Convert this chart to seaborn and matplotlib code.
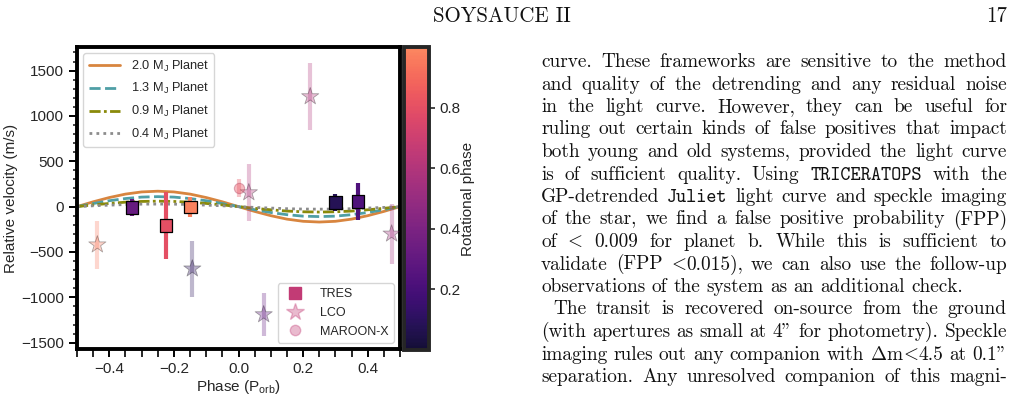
#!/usr/bin/env python3
"""Phase-folded radial velocities with planet models, next to the page text."""

import re

import matplotlib
matplotlib.use("Agg")
import matplotlib.pyplot as plt
import numpy as np
import pandas as pd
import seaborn as sns
from matplotlib.cm import ScalarMappable
from matplotlib.colors import ListedColormap, Normalize
from matplotlib.lines import Line2D
from matplotlib.ticker import MultipleLocator
from matplotlib.transforms import IdentityTransform

W, H = 1028, 418

# Radial velocities (orbital phase, m/s, error, rotational phase)
TRES_PHASE = [-0.33, -0.225, -0.149, 0.300, 0.370]
TRES_RV = [-10, -210, -5, 45, 55]
TRES_ERR = [90, 370, 110, 90, 205]
TRES_ROT = [0.32, 0.80, 0.98, 0.08, 0.23]

LCO_PHASE = [-0.437, -0.143, 0.078, 0.032, 0.222, 0.474]
LCO_RV = [-420, -685, -1190, 155, 1214, -300]
LCO_ERR = [265, 310, 240, 310, 365, 330]
LCO_ROT = [0.95, 0.10, 0.30, 0.60, 0.60, 0.55]

MAROON_PHASE = [0.0]
MAROON_RV = [210]
MAROON_ERR = [100]
MAROON_ROT = [0.82]

# Model curves
MODEL_PHASE = [-0.5, -0.45, -0.4, -0.35, -0.3, -0.25, -0.2, -0.15, -0.1, -0.05, 0.0,
               0.05, 0.1, 0.15, 0.2, 0.25, 0.3, 0.35, 0.4, 0.45, 0.5]
MODEL_20 = [0, 53, 100, 138, 162, 170, 162, 138, 100, 53, 0,
            -53, -100, -138, -162, -170, -162, -138, -100, -53, 0]
MODEL_13 = [0, 34, 65, 89, 105, 110, 105, 89, 65, 34, 0,
            -34, -65, -89, -105, -110, -105, -89, -65, -34, 0]
MODEL_09 = [0, 19, 35, 49, 57, 60, 57, 49, 35, 19, 0,
            -19, -35, -49, -57, -60, -57, -49, -35, -19, 0]
MODEL_04 = [0, 9, 16, 23, 27, 28, 27, 23, 16, 9, 0,
            -9, -16, -23, -27, -28, -27, -23, -16, -9, 0]
MODEL_LABELS = ["2.0 M$_\\mathrm{J}$ Planet", "1.3 M$_\\mathrm{J}$ Planet",
                "0.9 M$_\\mathrm{J}$ Planet", "0.4 M$_\\mathrm{J}$ Planet"]
MODEL_COLORS = ["#d8853f", "#4f9fa6", "#8a8a0a", "#8c8c8c"]
MODEL_DASHES = ["", (4, 1.6), (4, 1.2, 1, 1.2), (1, 1.5)]

HEADER = "SOYSAUCE II"
PAGE = "17"
BODY = [
    ("curve. These frameworks are sensitive to the method", 0, True),
    ("and quality of the detrending and any residual noise", 0, True),
    ("in the light curve. However, they can be useful for", 0, True),
    ("ruling out certain kinds of false positives that impact", 0, True),
    ("both young and old systems, provided the light curve", 0, True),
    ("is of sufficient quality. Using TRICERATOPS with the", 0, True),
    ("GP-detrended Juliet light curve and speckle imaging", 0, True),
    ("of the star, we find a false positive probability (FPP)", 0, True),
    ("of < 0.009 for planet b. While this is sufficient to", 0, True),
    ("validate (FPP <0.015), we can also use the follow-up", 0, True),
    ("observations of the system as an additional check.", 0, False),
    ("The transit is recovered on-source from the ground", 1, True),
    ("(with apertures as small at 4\" for photometry). Speckle", 0, True),
    ("imaging rules out any companion with $\\Delta$m<4.5 at 0.1\"", 0, True),
    ("separation. Any unresolved companion of this magni-", 0, True),
]
TT_WORDS = {"TRICERATOPS", "Juliet"}
BODY_FS = 13.9

cmap = ListedColormap(plt.get_cmap("magma")(np.linspace(0.1, 0.75, 256)))
norm = Normalize(0, 1)


def draw_points(ax, xs, ys, errs, rots, marker, size, alpha, edge, lw, ealpha):
    for x, y, e, r in zip(xs, ys, errs, rots):
        ax.errorbar(x, y, yerr=e, fmt="none", ecolor=cmap(norm(r)),
                    elinewidth=3, alpha=ealpha, zorder=3)
    df = pd.DataFrame({"x": xs, "y": ys, "rot": rots})
    sns.scatterplot(data=df, x="x", y="y", hue="rot", palette=cmap, hue_norm=norm,
                    marker=marker, s=size, alpha=alpha, edgecolor=edge,
                    linewidth=lw, legend=False, ax=ax, zorder=4)


def word_pieces(word):
    """Split a word in (text, family) runs; '<' comes from the math italic font."""
    if word in TT_WORDS:
        return [(word, "cmtt10")]
    return [(p, "cmmi10" if p == "<" else "cmr10")
            for p in re.split(r"(<)", word) if p]


def draw_body(fig, renderer):
    x_left, x_right, base0, step = 541, 1007, 67, 22.5
    for i, (line, indent, justify) in enumerate(BODY):
        words = []
        for w in line.split(" "):
            parts = []
            for txt, fam in word_pieces(w):
                t = fig.text(0, 0, txt, fontsize=BODY_FS, family=fam,
                             math_fontfamily="cm", transform=IdentityTransform(),
                             va="baseline", color="#111111")
                parts.append((t, t.get_window_extent(renderer).width))
            words.append(parts)
        widths = [sum(wd for _, wd in parts) for parts in words]
        x0 = x_left + 12 * indent
        if justify and len(words) > 1:
            gap = (x_right - x0 - sum(widths)) / (len(words) - 1)
        else:
            gap = 0.33 * BODY_FS * 100 / 72
        y = H - (base0 + step * i)
        x = x0
        for parts, wsum in zip(words, widths):
            px = x
            for t, wd in parts:
                t.set_position((px, y))
                px += wd
            x += wsum + gap


def main():
    sns.set_style("ticks")
    plt.rcParams["font.family"] = ["Liberation Sans", "DejaVu Sans"]
    plt.rcParams["mathtext.fontset"] = "custom"
    plt.rcParams["mathtext.rm"] = "Liberation Sans"
    plt.rcParams["mathtext.it"] = "Liberation Sans:italic"

    fig = plt.figure(figsize=(W / 100, H / 100), dpi=100)
    ax = fig.add_axes([77 / W, 1 - 349 / H, 323 / W, 302 / H])
    cax = fig.add_axes([404 / W, 1 - 350 / H, 25 / W, 303 / H])

    # Planet models
    models = pd.DataFrame({
        "phase": MODEL_PHASE * 4,
        "rv": MODEL_20 + MODEL_13 + MODEL_09 + MODEL_04,
        "model": sum([[lab] * len(MODEL_PHASE) for lab in MODEL_LABELS], []),
    })
    sns.lineplot(data=models, x="phase", y="rv", hue="model", style="model",
                 palette=dict(zip(MODEL_LABELS, MODEL_COLORS)),
                 dashes=dict(zip(MODEL_LABELS, MODEL_DASHES)),
                 linewidth=2, legend=False, ax=ax, zorder=2)
    model_handles = []
    for c, d in zip(MODEL_COLORS, MODEL_DASHES):
        hnd = Line2D([], [], color=c, lw=2)
        if d:
            hnd.set_dashes(d)
        model_handles.append(hnd)

    # Data
    draw_points(ax, TRES_PHASE, TRES_RV, TRES_ERR, TRES_ROT, "s", 80, 1.0, "black", 0.9, 1.0)
    draw_points(ax, LCO_PHASE, LCO_RV, LCO_ERR, LCO_ROT, "*", 170, 0.32, "black", 0.6, 0.3)
    draw_points(ax, MAROON_PHASE, MAROON_RV, MAROON_ERR, MAROON_ROT, "o", 55, 0.4,
                "#b04060", 0.8, 0.35)

    ax.set_xlim(-0.5, 0.5)
    ax.set_ylim(-1570, 1760)
    ax.xaxis.set_major_locator(MultipleLocator(0.2))
    ax.xaxis.set_minor_locator(MultipleLocator(0.05))
    ax.yaxis.set_major_locator(MultipleLocator(500))
    ax.yaxis.set_minor_locator(MultipleLocator(100))
    ax.tick_params(which="major", length=6, width=1.4, labelsize=11, color="black")
    ax.tick_params(axis="x", which="minor", length=6, width=1.4)
    ax.tick_params(axis="y", which="minor", length=3, width=1.2)
    for sp in ax.spines.values():
        sp.set_linewidth(2.8)
        sp.set_color("black")
    ax.set_xlabel("Phase (P$_\\mathrm{orb}$)", fontsize=11, labelpad=1)
    ax.set_ylabel("Relative velocity (m/s)", fontsize=11, labelpad=2)

    leg1 = ax.legend(model_handles, MODEL_LABELS, loc="upper left", fontsize=9.2,
                     handlelength=2.5, frameon=True, borderaxespad=0.5,
                     labelspacing=0.6)
    ax.add_artist(leg1)
    mid = cmap(norm(0.66))
    inst_handles = [
        Line2D([], [], marker="s", color=mid, linestyle="", markersize=8.5),
        Line2D([], [], marker="*", color=mid, alpha=0.35, linestyle="", markersize=13),
        Line2D([], [], marker="o", color=mid, alpha=0.35, linestyle="", markersize=7.5),
    ]
    ax.legend(inst_handles, ["TRES", "LCO", "MAROON-X"], loc="lower right",
              fontsize=9, frameon=True, handletextpad=1.0, borderaxespad=0.5,
              labelspacing=0.55)

    cb = fig.colorbar(ScalarMappable(norm=norm, cmap=cmap), cax=cax)
    cb.set_ticks([0.2, 0.4, 0.6, 0.8])
    cb.outline.set_linewidth(2.8)
    cb.ax.tick_params(labelsize=11, length=4, width=1.2)
    cb.set_label("Rotational phase", fontsize=11, labelpad=0)

    # Page text
    fig.text(502 / W, 1 - 22 / H, HEADER, fontsize=15.1, family="cmr10",
             ha="center", va="baseline", color="#111111")
    fig.text(1007 / W, 1 - 22 / H, PAGE, fontsize=15.1, family="cmr10",
             ha="right", va="baseline", color="#111111")
    draw_body(fig, fig.canvas.get_renderer())

    fig.savefig("out.png", dpi=100)
    plt.close(fig)


if __name__ == "__main__":
    main()
